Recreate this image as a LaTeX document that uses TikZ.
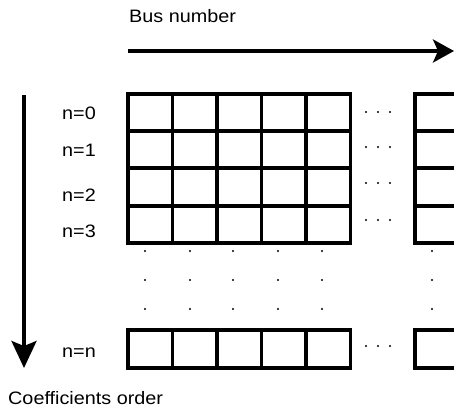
\documentclass[tikz,border=0pt]{standalone}
\usepackage{fontspec}
\usepackage{graphicx}
\setmainfont{Liberation Sans}
\usetikzlibrary{arrows.meta}
\tikzset{
  lbl/.style={inner sep=0pt, anchor=base west, font=\fontsize{18}{20}\selectfont},
  cell/.style={draw=black, line width=3.5pt},
  axis/.style={line width=3.5pt},
  dotm/.style={fill=black, draw=none},
}
\newcommand{\wt}[1]{\scalebox{1.1}[1]{#1}}
\begin{document}
\begin{tikzpicture}[x=1pt,y=-1pt]
\useasboundingbox (0,0) rectangle (454,414);
\clip (0,0) rectangle (454,414);
% labels
\node[lbl] (bus) at (129,23) {\wt{Bus number}};
\node[lbl] (coef) at (8,404) {\wt{Coefficients order}};
\node[lbl] (n0) at (62,120) {\wt{n=0}};
\node[lbl] (n1) at (62,157) {\wt{n=1}};
\node[lbl] (n2) at (62,201) {\wt{n=2}};
\node[lbl] (n3) at (62,237) {\wt{n=3}};
\node[lbl] (nn) at (62,357) {\wt{n=n}};
% arrows
\coordinate (hs) at (128,51);
\coordinate (he) at (454,51);
\draw[axis,-{Stealth[length=21pt,width=23pt,inset=5pt]}] (hs) -- (he);
\coordinate (vs) at (24,95);
\coordinate (ve) at (24,368);
\draw[axis,-{Stealth[length=27pt,width=25pt,inset=5pt]}] (vs) -- (ve);
% grid
\foreach \x [count=\i] in {128,172.5,217,261.5,306}{
  \foreach \ya/\yb [count=\j] in {94/131,131/168,168/206,206/243}{
    \draw[cell] (\x,\ya) rectangle ++(44.5,\yb-\ya);
  }
  \draw[cell] (\x,330) rectangle ++(44.5,38);
}
% right partial column
\foreach \ya/\yb in {94/131,131/168,168/206,206/243}{
  \draw[cell] (415,\ya) rectangle (470,\yb);
}
\draw[cell] (415,330) rectangle (470,368);
% horizontal ellipses
\foreach \y in {112,147,183,220,346}{
  \foreach \x in {366,378,390}{
    \fill[dotm] (\x,\y) circle (1.2);
  }
}
% vertical ellipses
\foreach \x in {145,190,233,278,322,432}{
  \foreach \y in {251,280,309}{
    \fill[dotm] (\x,\y) circle (1.2);
  }
}
\end{tikzpicture}
\end{document}
